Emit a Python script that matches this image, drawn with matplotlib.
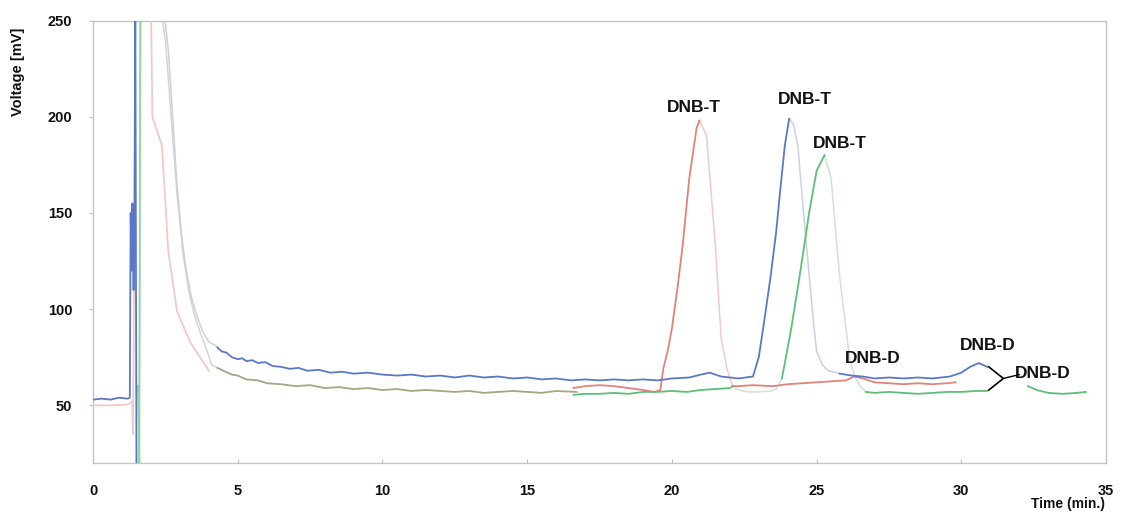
import numpy as np
import matplotlib
matplotlib.use('Agg')
import matplotlib.pyplot as plt

plt.rcParams['font.family'] = ['Liberation Sans', 'DejaVu Sans']

# chromatogram traces, time in min, detector signal in mV
t_blue = [0, 0.3, 0.6, 0.9, 1.2, 1.27, 1.3, 1.33, 1.36, 1.4, 1.43, 1.46, 1.5, 1.56, 1.6, 1.65,
          2.3, 2.45, 2.6, 2.75, 2.9, 3.05, 3.2, 3.4, 3.6, 3.8, 4.0, 4.25, 4.3, 4.45, 4.6, 4.8,
          5.0, 5.15, 5.3, 5.5, 5.7, 5.95, 6.2, 6.5, 6.8, 7.1, 7.4, 7.8, 8.2, 8.6, 9, 9.5, 10,
          10.5, 11, 11.5, 12, 12.5, 13, 13.5, 14, 14.5, 15, 15.5, 16, 16.5, 17, 17.5, 18, 18.5,
          19, 19.5, 20, 20.6, 21.0, 21.3, 21.7, 22.3, 22.8, 23.0, 23.2, 23.4, 23.6, 23.75, 23.9,
          24.05, 24.2, 24.35, 24.55, 24.75, 24.9, 25.0, 25.2, 25.4, 25.8, 26.2, 26.6, 27, 27.5,
          28, 28.5, 29, 29.6, 30, 30.3, 30.6, 30.9]
v_blue = [53, 53.5, 53, 54, 53.5, 54, 150, 120, 155, 110, 140, 260, 15, 15, 70, 260,
          270, 255, 235, 200, 165, 140, 122, 106, 96, 88, 83, 81, 80, 78, 77.5, 75,
          74, 74.5, 73, 73.5, 72, 72.5, 70.5, 70, 69, 69.5, 68, 68.5, 67, 67.5, 66.5, 67, 66,
          65.5, 66, 65, 65.5, 64.5, 65.5, 64.5, 65, 64, 64.5, 63.5, 64, 63, 63.5, 63, 63.5, 63,
          63.5, 63, 64, 64.5, 66, 67, 65, 64, 65, 75, 95, 116, 140, 163, 185,
          199, 196, 185, 150, 116, 92, 78, 71, 68, 66.5, 65.5, 65, 64, 64.5,
          64, 64.5, 64, 65, 67, 70, 72, 70]
blue_faded = [(1.6, 4.27), (24.2, 25.4)]

# red and green run together until ~16.6 min, seen as one olive line
t_olive = [2.3, 2.5, 2.7, 2.9, 3.1, 3.3, 3.5, 3.7, 3.9, 4.1, 4.3, 4.5, 4.8, 5.0, 5.3, 5.7,
           6, 6.5, 7, 7.5, 8, 8.5, 9, 9.5, 10, 10.5, 11, 11.5, 12, 12.5, 13, 13.5, 14, 14.5,
           15, 15.5, 16, 16.7]
v_olive = [260, 240, 200, 160, 130, 110, 97, 88, 80, 71, 69.5, 68, 66, 65.5, 63.5, 63,
           61.5, 61, 60, 60.5, 59, 59.5, 58.5, 59, 58, 58.5, 57.5, 58, 57.5, 57, 57.5, 56.5, 57,
           57.5, 57, 56.5, 57.5, 57]
olive_faded = [(2.2, 4.1)]

t_red_start = [0, 0.6, 1.2, 1.35, 1.38, 1.42, 1.46, 2.0, 2.05, 2.38, 2.6, 2.9, 3.35, 3.7, 4.0]
v_red_start = [50, 50, 50.5, 52, 35, 120, 260, 260, 200, 185, 130, 99, 83, 75, 68]

t_red = [16.6, 17, 17.5, 18, 18.5, 19, 19.4, 19.6, 19.7, 19.85, 20.0, 20.2, 20.37, 20.6,
         20.85, 20.95, 21.2, 21.5, 21.7, 21.9, 22.1, 22.3, 22.8, 23.5, 24, 24.5, 25, 25.5,
         26, 26.3, 26.6, 27, 27.5, 28, 28.5, 29, 29.5, 29.8]
v_red = [59, 60, 60.5, 60, 59, 58, 57, 58, 69, 78, 90, 112, 133, 168,
         194, 198, 190, 133, 85, 69, 60, 60, 60.5, 60, 61, 61.5, 62, 62.5,
         63, 65, 64, 62, 61.5, 61, 61.5, 61, 61.5, 62]
red_faded = [(21.0, 21.95)]

t_green_start = [1.55, 1.6, 1.63]
v_green_start = [60, 20, 260]

t_green = [16.6, 17, 17.5, 18, 18.5, 19, 19.5, 20, 20.5, 21, 21.5, 22, 22.1,
           22.3, 22.6, 23, 23.4, 23.6, 23.8, 24.1, 24.4, 24.75, 25.0, 25.27, 25.5,
           25.8, 26.15, 26.35, 26.5, 26.7, 27, 27.5, 28, 28.5, 29, 29.5, 30, 30.5, 30.9]
v_green = [55.5, 56, 56, 56.5, 56, 57, 57, 57.5, 57, 58, 58.5, 59, 60,
           58, 57, 57, 57.5, 58.5, 64, 88, 116, 151, 172, 180, 168,
           116, 73, 64, 60, 57, 56.5, 57, 56.5, 56, 56.5, 57, 57, 57.5, 57.5]
t_green_end = [32.3, 32.6, 33, 33.5, 34, 34.3]
v_green_end = [60, 58, 56.5, 56, 56.5, 57]
green_faded = [(22.25, 23.65), (25.35, 26.5)]

# peak labels: text, time, voltage
peak_labels = ['DNB-T', 'DNB-T', 'DNB-T', 'DNB-D', 'DNB-D', 'DNB-D']
peak_t = [20.77, 24.6, 25.8, 26.95, 30.9, 32.8]
peak_v = [205, 209, 186, 74.5, 81, 66.5]

xticks = [0, 5, 10, 15, 20, 25, 30, 35]
yticks = [50, 100, 150, 200, 250]


def plot_trace(ax, t, v, color, faded_color, faded=()):
    t = np.asarray(t, dtype=float)
    v = np.asarray(v, dtype=float)
    fade = np.zeros(t.size, dtype=bool)
    for t0, t1 in faded:
        fade |= (t >= t0) & (t <= t1)
    # keep the joints so the two pieces connect
    edge = fade | np.r_[fade[1:], False] | np.r_[False, fade[:-1]]
    ax.plot(t, np.where(edge, v, np.nan), color=faded_color, lw=1.1, zorder=2)
    ax.plot(t, np.where(fade, np.nan, v), color=color, lw=1.3, zorder=3)


fig = plt.figure(figsize=(11.21, 5.14), dpi=100)
ax = fig.add_axes([0.083, 0.099, 0.9037, 0.861])

plot_trace(ax, t_olive, v_olive, '#a8a484', '#d4d4d0', olive_faded)
plot_trace(ax, t_red_start, v_red_start, '#f2c9c6', '#f2c9c6')
plot_trace(ax, t_red, v_red, '#e0837a', '#f2c9c6', red_faded)
plot_trace(ax, t_green_start, v_green_start, '#8fd6a4', '#cfe3d2')
plot_trace(ax, t_green, v_green, '#5cbf78', '#cfe3d2', green_faded)
plot_trace(ax, t_green_end, v_green_end, '#5cbf78', '#cfe3d2')
plot_trace(ax, t_blue, v_blue, '#5b78c8', '#cdd0de', blue_faded)

# bracket tying the last two DNB-D peaks to one label
ax.plot([30.95, 31.45, 30.95], [70, 64, 58], color='k', lw=1.2, zorder=4)
ax.plot([31.45, 32.0], [64, 66], color='k', lw=1.0, zorder=4)

for s, x, y in zip(peak_labels, peak_t, peak_v):
    ax.text(x, y, s, ha='center', va='center', fontsize=12.5, fontweight='bold', color='#111111')

ax.set_xlim(0, 35)
ax.set_ylim(20, 250)
ax.set_xticks(xticks)
ax.set_yticks(yticks)
ax.tick_params(axis='both', labelsize=10.5, colors='#c0c0c0', labelcolor='#111111', length=3, width=0.8)
ax.tick_params(axis='x', direction='in', pad=15)
ax.tick_params(axis='y', direction='out', pad=12)
for lbl in ax.get_xticklabels() + ax.get_yticklabels():
    lbl.set_fontweight('bold')
for sp in ax.spines.values():
    sp.set_color('#c4c4c8')
    sp.set_linewidth(1.0)

fig.text(0.016, 0.86, 'Voltage [mV]', rotation=90, ha='center', va='center',
         fontsize=10.5, fontweight='bold', color='#111111')
fig.text(0.953, 0.02, 'Time (min.)', ha='center', va='center',
         fontsize=10, fontweight='bold', color='#111111')

fig.savefig('out.png', dpi=100, facecolor='white')
